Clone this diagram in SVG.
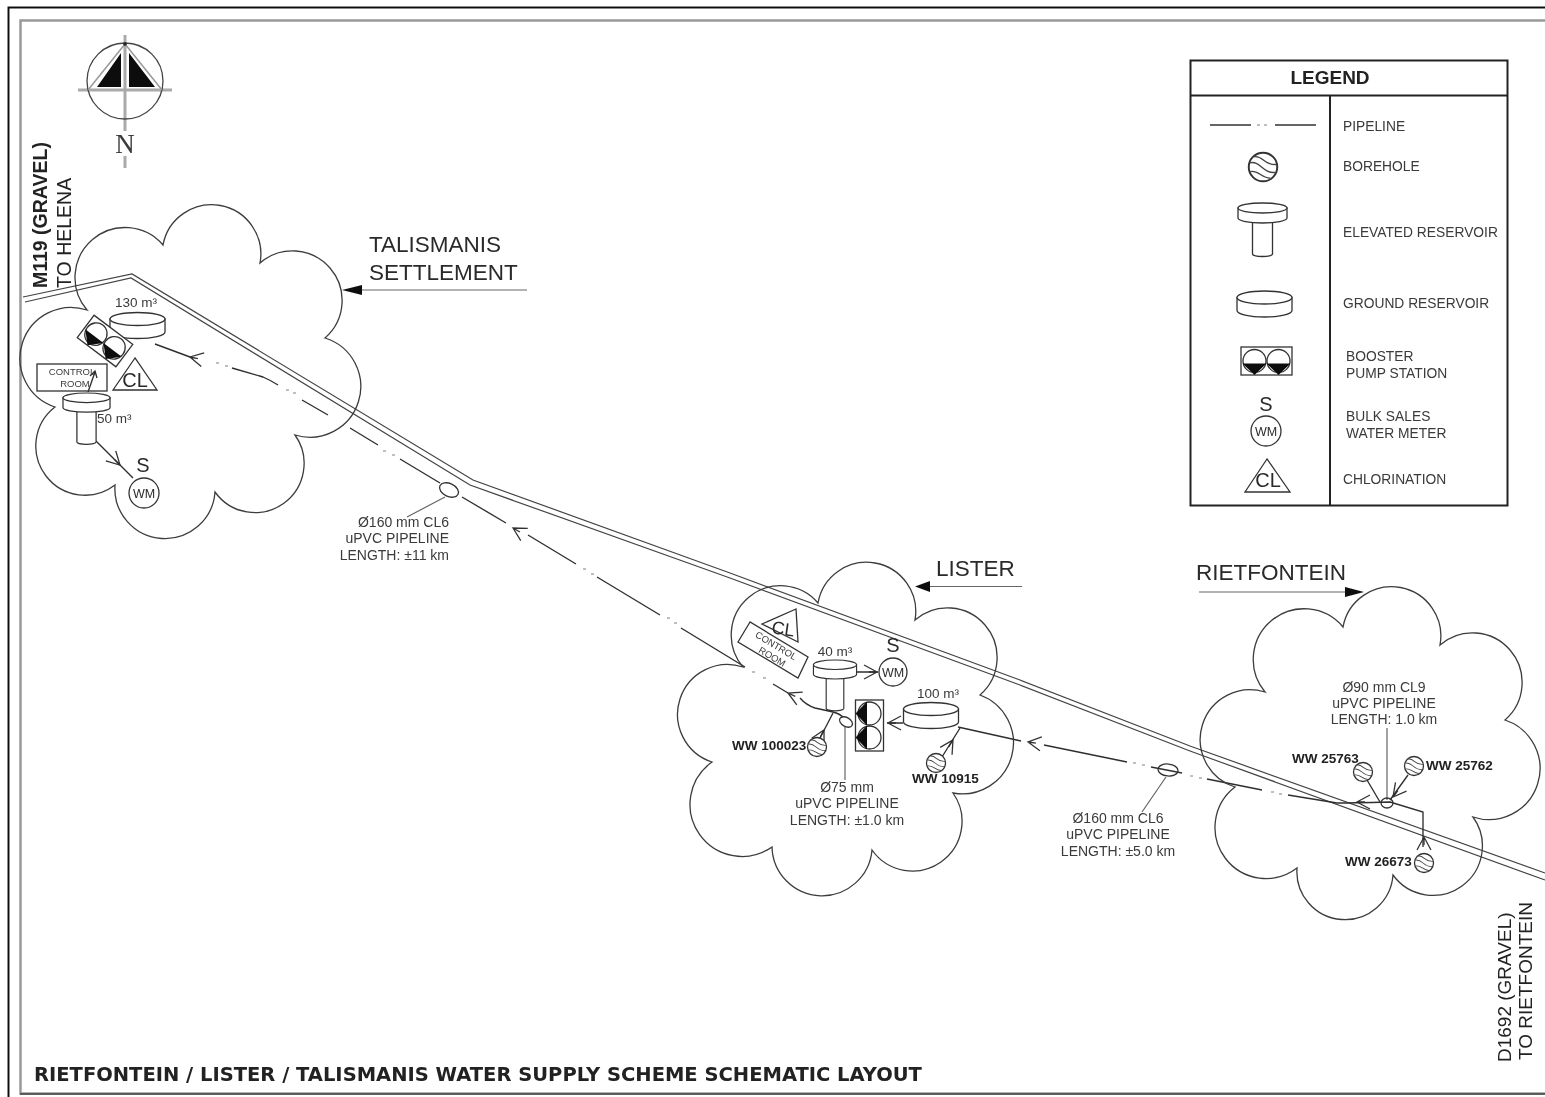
<svg xmlns="http://www.w3.org/2000/svg" xmlns:xlink="http://www.w3.org/1999/xlink" width="1545" height="1097" viewBox="0 0 1545 1097">
<style>
text{font-family:"Liberation Sans",Arial,sans-serif;fill:#3a3a3a}
.s{font-size:14px}
.b{font-size:13.5px;font-weight:bold;fill:#222}
.big{font-size:22.5px;fill:#2a2a2a}
.sym{font-size:20px;fill:#2a2a2a}
.wm{font-size:12.5px;fill:#2a2a2a;text-anchor:middle}
.mid{text-anchor:middle}
.cr{font-size:9.5px;text-anchor:middle}
.side{font-size:19px;fill:#222}
.ln{fill:none;stroke:#333;stroke-width:1.3}
.thin{fill:none;stroke:#444;stroke-width:.9}
.wf{fill:#fff;stroke:#333;stroke-width:1.3}
.cloud{fill:none;stroke:#3c3c3c;stroke-width:1.3}
.pipe{fill:none;stroke:#2e2e2e;stroke-width:1.35}
.dots{fill:none;stroke:#aaa;stroke-width:1.5}
.road{fill:none;stroke:#444;stroke-width:1.2}
.lead{fill:none;stroke:#666;stroke-width:1.2}
.blk{fill:#111;stroke:none}
</style>
<defs>
<filter id="soft" x="0" y="0" width="1545" height="1097" filterUnits="userSpaceOnUse"><feGaussianBlur stdDeviation="0.45"/></filter>
<g id="chev"><path class="ln" d="M13 -7L0 0L13 7M0 0L8 0"/></g>
<g id="bh"><circle class="wf" r="9.5"/><path class="thin" d="M-8.500 -3C-4 -7 0 -1 7 -6M-9 2C-4 -3 2 4 9 -1M-6 7C-2 3 3 7 8 4" transform="rotate(30)"/></g>
<g id="pump"><rect class="wf" x="-25.500" y="-14" width="51" height="28"/><circle class="ln" cx="-12" cy="0" r="11.500"/><circle class="ln" cx="12" cy="0" r="11.500"/><path class="blk" d="M-24 2.500H0L-12 14ZM0 2.500H24L12 14Z"/></g>
<g id="tower"><path class="wf" d="M-10 18V51A10 2.500 0 0 0 10 51V18Z"/><path class="wf" d="M-24.500 5V15A24.500 5 0 0 0 24.500 15V5Z"/><ellipse class="wf" cx="0" cy="5" rx="24.500" ry="5"/></g>
<g id="tank"><path class="wf" d="M-27.500 -6.500V6.500A27.500 6.500 0 0 0 27.500 6.500V-6.500Z"/><ellipse class="wf" cx="0" cy="-6.500" rx="27.500" ry="6.500"/></g>
</defs>
<rect width="1545" height="1097" fill="#fff"/>
<g filter="url(#soft)">
<g id="frame">
<path d="M1545 7.500H8.500V1097" fill="none" stroke="#111" stroke-width="2"/>
<path d="M1545 20.500H20.500V1093.500H1545" fill="none" stroke="#999" stroke-width="2.500"/>
<path d="M20 1094H1545" fill="none" stroke="#444" stroke-width="1.500"/>
</g>
<g id="compass">
<path d="M125 35V131M125 156V168M78 90H172" fill="none" stroke="#aaa" stroke-width="3"/>
<circle cx="125" cy="81" r="38" fill="none" stroke="#444" stroke-width="1.300"/>
<path d="M125 44L88 90M125 44L162 90" fill="none" stroke="#999" stroke-width="1.500"/>
<path class="blk" d="M121 53V87H97ZM129 53V87H155Z"/>
<circle cx="125" cy="44" r="1.800" fill="#222"/>
<text x="125" y="153" text-anchor="middle" style="font-family:'Liberation Serif',serif;font-size:27px">N</text>
</g>
<g id="connectors">
<g id="road">
<path class="road" d="M23 297L132 274L473 480L730 573L1020 680L1190 746L1545 873"/>
<path class="road" d="M25 302L131 278L470 485L730 578L1020 685L1190 751L1545 880"/>
</g>
<path class="pipe" d="M155 344L190 357M232 368L263 377Q270 380 278 385M302 400L328 415M350 428L378 445M400 459L440 483M462 497L506 523M528 535L576 564M597 577L660 615M681 628L745 667M773 684L788 693M800 698Q806 705 815 708L833 712Q840 714 843 717M903 723H887M958 727L1021 741M1044 745L1127 762M1151 767L1182 773M1207 779L1262 790M1288 795L1337 803Q1350 803 1390 802L1423 812V847"/>
<path class="dots" d="M216 363h3M225 366h3M286 390h3M293 393h3M383 451h3M392 455h3M583 569h3M591 574h3M667 618h3M674 623h3M752 672h3M763 678h3M1133 763h3M1142 765h3M1190 776h3M1199 778h3M1271 792h3M1279 794h3"/>
<use xlink:href="#chev" href="#chev" transform="translate(190 357) rotate(12)"/>
<use xlink:href="#chev" href="#chev" transform="translate(513 528) rotate(30)"/>
<use xlink:href="#chev" href="#chev" transform="translate(788 693) rotate(25)"/>
<use xlink:href="#chev" href="#chev" transform="translate(888 723)"/>
<use xlink:href="#chev" href="#chev" transform="translate(1028 742) rotate(8)"/>
<use xlink:href="#chev" href="#chev" transform="translate(1357 802)"/>
<use xlink:href="#chev" href="#chev" transform="translate(1424 837) rotate(90)"/>
<use xlink:href="#chev" href="#chev" transform="translate(1393 797) rotate(-52)"/>
<use xlink:href="#chev" href="#chev" transform="translate(953 740) rotate(122)"/>
<use xlink:href="#chev" href="#chev" transform="translate(824 730) rotate(118)"/>
<use xlink:href="#chev" href="#chev" transform="translate(120 465) rotate(225)"/>
<use xlink:href="#chev" href="#chev" transform="translate(877 672) rotate(180)"/>
<path class="pipe" d="M96 441L133 478M856 672H878M819 740L833 713M942 757L960 728M1367 780L1380 802M1408 775L1390 800M95 372L88 392M90 376L95 371L97 378"/>
<path class="lead" d="M445 497L407 517M1166 777L1142 812M845 727V780M1387 728V800"/>
<ellipse class="ln" cx="449" cy="490" rx="10" ry="6.500" transform="rotate(25 449 490)"/>
<ellipse class="ln" cx="1168" cy="770" rx="10" ry="6" transform="rotate(5 1168 770)"/>
<ellipse class="ln" cx="846" cy="722" rx="7" ry="4.500" transform="rotate(30 846 722)"/>
<ellipse class="ln" cx="1387" cy="803" rx="6" ry="5"/>
<path class="lead" d="M527 290H360M1022 586.500H930M1199 592H1346"/>
<path class="blk" d="M342 290L362 285V295ZM915 586.500L930 581V592ZM1364 592L1345 587V597Z"/>
</g>
<g id="talismanis">
<path class="cloud" d="M163 245A1 1 0 0 1 260 263A1 1 0 0 1 325 338A1 1 0 0 1 295 435A1 1 0 0 1 215 492A1 1 0 0 1 115 485A1 1 0 0 1 55 407A1 1 0 0 1 87 310A1 1 0 0 1 163 245Z"/>
<text class="big" x="369" y="252">TALISMANIS</text>
<text class="big" x="369" y="280">SETTLEMENT</text>
<text class="s" x="115" y="307" style="font-size:13.500px">130 m³</text>
<use xlink:href="#tank" href="#tank" transform="translate(137.500 325.500)"/>
<use xlink:href="#pump" href="#pump" transform="translate(105 341) rotate(37) scale(.95 1)"/>
<path class="ln" d="M135 358L113 390H157Z"/>
<text class="sym mid" x="135" y="387">CL</text>
<rect class="ln" x="37" y="364" width="70" height="27"/>
<text class="cr" x="72" y="375">CONTROL</text>
<text class="cr" x="75" y="387">ROOM</text>
<use xlink:href="#tower" href="#tower" transform="translate(86.500 393) scale(.96)"/>
<text class="s" x="97" y="423" style="font-size:13.500px">50 m³</text>
<text class="sym mid" x="143" y="472">S</text>
<circle class="wf" cx="144" cy="493" r="15"/>
<text class="wm" x="144" y="498">WM</text>
</g>
<g id="pipe-label-1">
<text class="s" x="449" y="527" text-anchor="end">Ø160 mm CL6</text>
<text class="s" x="449" y="543" text-anchor="end">uPVC PIPELINE</text>
<text class="s" x="449" y="560" text-anchor="end">LENGTH: ±11 km</text>
</g>
<g id="lister">
<path class="cloud" d="M818 603A1 1 0 0 1 915 620A1 1 0 0 1 980 695A51 51 0 0 1 953 793A1 1 0 0 1 872 850A50.100 50.100 0 0 1 772 847A1 1 0 0 1 712 762A1 1 0 0 1 743 667A1 1 0 0 1 818 603Z"/>
<text class="big" x="936" y="576">LISTER</text>
<path class="ln" d="M796 609L762 624L798 642Z"/>
<text class="sym mid" x="783" y="635" transform="rotate(8 783 630)" style="font-size:18px">CL</text>
<path class="wf" d="M750 622L738 642L798 678L808 657Z"/>
<text class="cr" x="776" y="649" transform="rotate(31 776 646)">CONTROL</text>
<text class="cr" x="772" y="660" transform="rotate(31 772 657)">ROOM</text>
<text class="s" x="835" y="656" style="font-size:13.500px" text-anchor="middle">40 m³</text>
<use xlink:href="#tower" href="#tower" transform="translate(835 660) scale(.88 .95)"/>
<text class="sym mid" x="893" y="652">S</text>
<circle class="wf" cx="893" cy="672" r="14"/>
<text class="wm" x="893" y="677">WM</text>
<text class="s" x="938" y="698" style="font-size:13.500px" text-anchor="middle">100 m³</text>
<use xlink:href="#tank" href="#tank" transform="translate(931 715.500)"/>
<use xlink:href="#pump" href="#pump" transform="translate(869.500 725.500) rotate(90)"/>
<use xlink:href="#bh" href="#bh" transform="translate(817 747)"/>
<text class="b" x="732" y="750">WW 100023</text>
<use xlink:href="#bh" href="#bh" transform="translate(936 763)"/>
<text class="b" x="912" y="783">WW 10915</text>
<text class="s mid" x="847" y="792">Ø75 mm</text>
<text class="s mid" x="847" y="808">uPVC PIPELINE</text>
<text class="s mid" x="847" y="825">LENGTH: ±1.0 km</text>
</g>
<g id="pipe-label-2">
<text class="s mid" x="1118" y="823">Ø160 mm CL6</text>
<text class="s mid" x="1118" y="839">uPVC PIPELINE</text>
<text class="s mid" x="1118" y="856">LENGTH: ±5.0 km</text>
</g>
<g id="rietfontein">
<path class="cloud" d="M1343 627A1 1 0 0 1 1440 645A1 1 0 0 1 1505 720A1 1 0 0 1 1473 817A1 1 0 0 1 1393 875A1 1 0 0 1 1297 868A1 1 0 0 1 1235 787A1 1 0 0 1 1265 692A1 1 0 0 1 1343 627Z"/>
<text class="big" x="1196" y="580">RIETFONTEIN</text>
<text class="s mid" x="1384" y="692">Ø90 mm CL9</text>
<text class="s mid" x="1384" y="708">uPVC PIPELINE</text>
<text class="s mid" x="1384" y="724">LENGTH: 1.0 km</text>
<use xlink:href="#bh" href="#bh" transform="translate(1363 772)"/>
<text class="b" x="1292" y="763">WW 25763</text>
<use xlink:href="#bh" href="#bh" transform="translate(1414 766)"/>
<text class="b" x="1426" y="770">WW 25762</text>
<use xlink:href="#bh" href="#bh" transform="translate(1424 863)"/>
<text class="b" x="1345" y="866">WW 26673</text>
</g>
<g id="roads-labels">
<text class="side" transform="translate(47 288) rotate(-90)" style="font-size:19.500px;font-weight:bold">M119 (GRAVEL)</text>
<text class="side" transform="translate(71 288) rotate(-90)" style="font-size:19.500px">TO HELENA</text>
<text class="side" transform="translate(1511 1062) rotate(-90)">D1692 (GRAVEL)</text>
<text class="side" transform="translate(1532 1060) rotate(-90)">TO RIETFONTEIN</text>
</g>
<g id="legend">
<rect x="1190.500" y="60.500" width="317" height="445" fill="#fff" stroke="#222" stroke-width="2"/>
<path d="M1190 95.500H1507M1330 95.500V505" fill="none" stroke="#222" stroke-width="2"/>
<text x="1330" y="84" text-anchor="middle" style="font-size:19px;font-weight:bold;fill:#222">LEGEND</text>
<path class="ln" d="M1210 125H1251M1275 125H1316"/>
<path class="dots" d="M1257 125h3M1264 125h3"/>
<use xlink:href="#bh" href="#bh" transform="translate(1263 167) scale(1.500)"/>
<use xlink:href="#tower" href="#tower" transform="translate(1262.500 203)"/>
<use xlink:href="#tank" href="#tank" transform="translate(1264.500 304)"/>
<use xlink:href="#pump" href="#pump" transform="translate(1266.500 361)"/>
<text class="sym mid" x="1266" y="411">S</text>
<circle class="wf" cx="1266" cy="431" r="15"/>
<text class="wm" x="1266" y="436">WM</text>
<path class="ln" d="M1267 459L1245 492H1290Z"/>
<text class="sym mid" x="1268" y="487">CL</text>
<g style="font-size:13.800px">
<text x="1343" y="131">PIPELINE</text>
<text x="1343" y="171">BOREHOLE</text>
<text x="1343" y="237">ELEVATED RESERVOIR</text>
<text x="1343" y="308">GROUND RESERVOIR</text>
<text x="1346" y="361">BOOSTER</text>
<text x="1346" y="378">PUMP STATION</text>
<text x="1346" y="421">BULK SALES</text>
<text x="1346" y="438">WATER METER</text>
<text x="1343" y="484">CHLORINATION</text>
</g>
</g>
<text x="34" y="1081" style="font-family:'DejaVu Sans',sans-serif;font-weight:bold;font-size:19.500px;fill:#222">RIETFONTEIN / LISTER / TALISMANIS WATER SUPPLY SCHEME SCHEMATIC LAYOUT</text>
</g>
</svg>
